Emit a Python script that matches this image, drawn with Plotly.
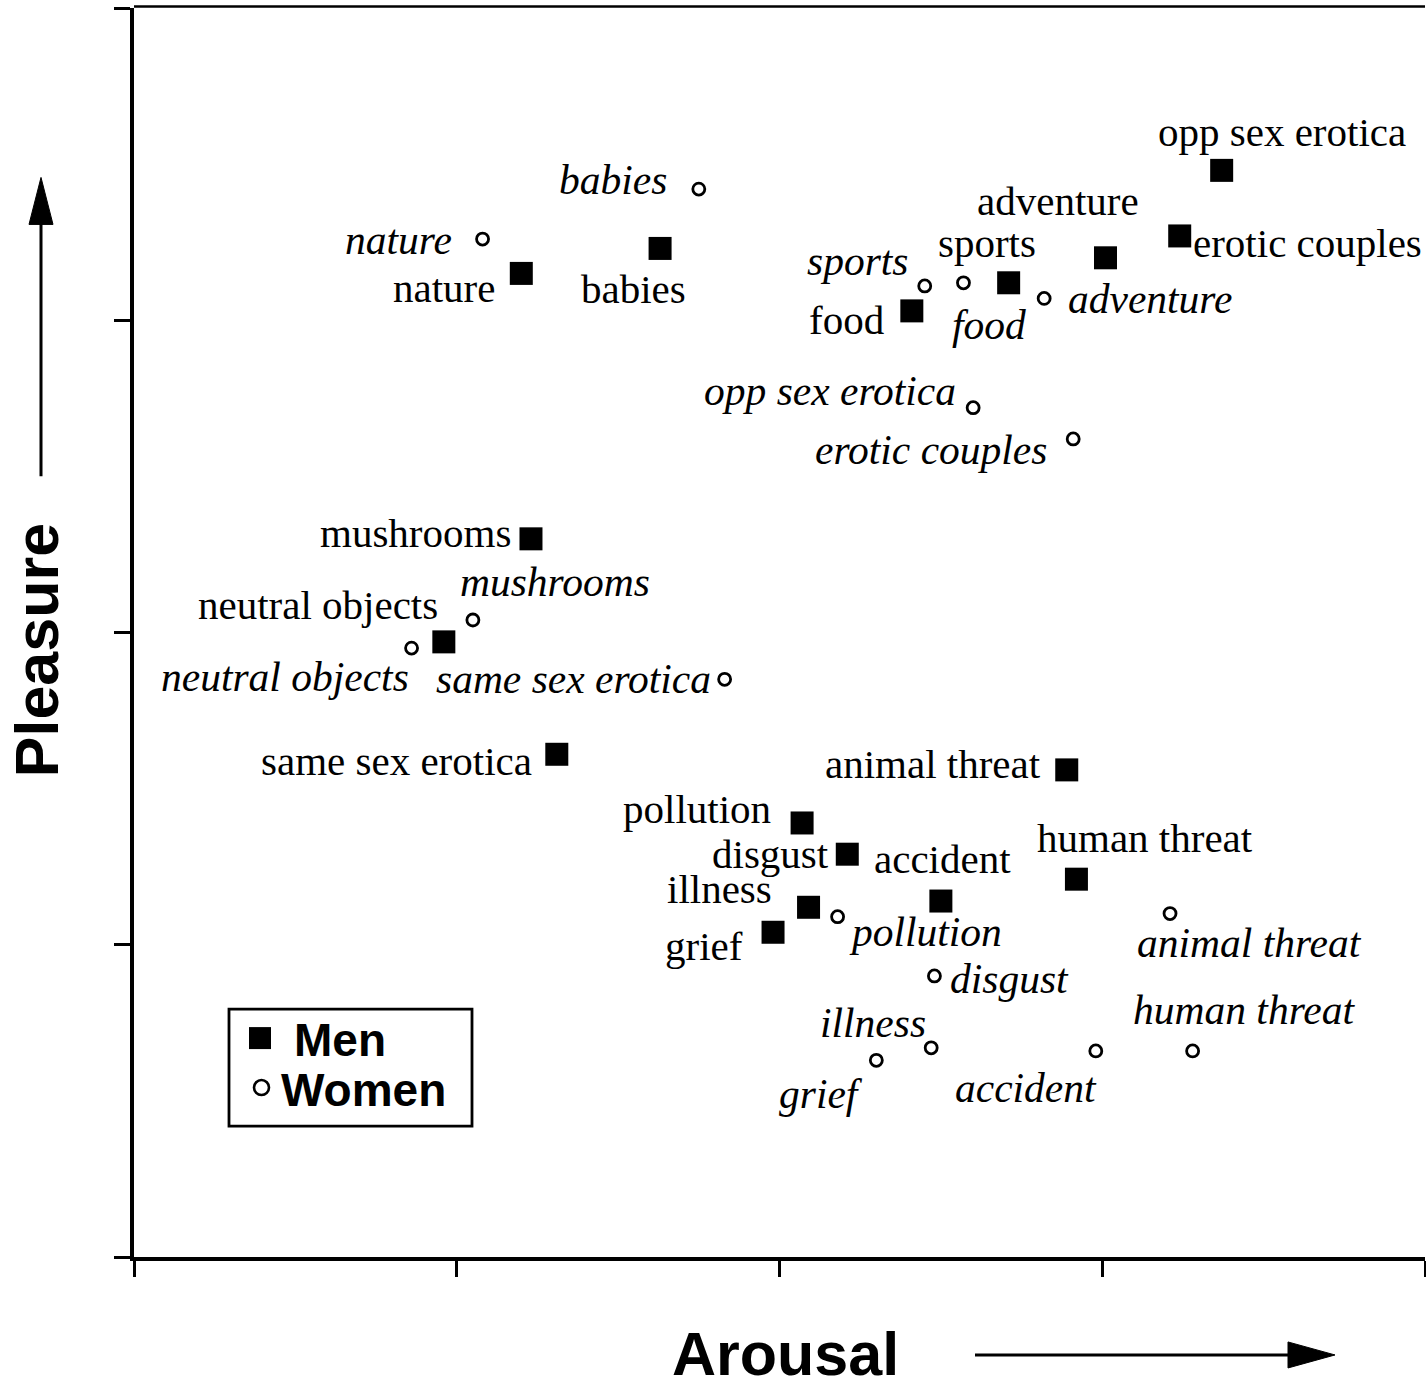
import plotly.graph_objects as go

# ---------------- data ----------------
categories = ["opp sex erotica", "erotic couples", "adventure", "sports", "food",
              "babies", "nature", "mushrooms", "neutral objects", "same sex erotica",
              "animal threat", "pollution", "disgust", "human threat", "accident",
              "illness", "grief"]

men_arousal = [3.37, 3.24, 3.01, 2.71, 2.41, 1.63, 1.20, 1.23, 0.96, 1.31,
               2.89, 2.07, 2.21, 2.92, 2.50, 2.09, 1.98]
men_pleasure = [3.48, 3.27, 3.20, 3.12, 3.03, 3.23, 3.15, 2.30, 1.97, 1.61,
                1.56, 1.39, 1.29, 1.21, 1.14, 1.12, 1.04]

women_arousal = [2.60, 2.91, 2.82, 2.45, 2.57, 1.75, 1.08, 1.05, 0.86, 1.83,
                 3.21, 2.18, 2.48, 3.28, 2.98, 2.47, 2.30]
women_pleasure = [2.72, 2.62, 3.07, 3.11, 3.12, 3.42, 3.26, 2.04, 1.95, 1.85,
                  1.10, 1.09, 0.90, 0.66, 0.66, 0.67, 0.63]

series_names = ["Men", "Women"]
axis_ticks = [0, 1, 2, 3, 4]

# ---------------- label placement (style only: anchor, pixel shifts) ----------------
men_label_pos = {
    "opp sex erotica": ("center", 60, 38),
    "erotic couples": ("left", 11, -7),
    "adventure": ("center", -47, 57),
    "sports": ("center", -22, 40),
    "food": ("right", -26, -9),
    "babies": ("center", -27, -41),
    "nature": ("right", -24, -15),
    "mushrooms": ("right", -18, 6),
    "neutral objects": ("right", -4, 37),
    "same sex erotica": ("right", -23, -7),
    "animal threat": ("right", -24, 6),
    "pollution": ("right", -29, 14),
    "disgust": ("right", -16, 0),
    "human threat": ("center", 69, 41),
    "accident": ("center", 2, 42),
    "illness": ("right", -35, 18),
    "grief": ("right", -28, -14),
}
women_label_pos = {
    "opp sex erotica": ("right", -15, 17),
    "erotic couples": ("right", -24, -11),
    "adventure": ("left", 22, -1),
    "sports": ("right", -15, 25),
    "food": ("center", 26, -42),
    "babies": ("right", -30, 9),
    "nature": ("right", -29, -1),
    "mushrooms": ("left", -15, 38),
    "neutral objects": ("right", -1, -29),
    "same sex erotica": ("right", -12, 0),
    "animal threat": ("center", 79, -29),
    "pollution": ("left", 9, -15),
    "disgust": ("left", 14, -3),
    "human threat": ("center", 51, 41),
    "accident": ("right", 3, -37),
    "illness": ("right", -3, 25),
    "grief": ("right", -11, -34),
}

W, H = 1426, 1382
L, T = 134, 7.5
PW, PH = 1291, 1249.5


def px(x):
    return (x - L) / PW


def py(y):
    return (T + PH - y) / PH


SERIF = "Liberation Serif, Times New Roman, serif"
SANS = "Liberation Sans, Arial, sans-serif"

fig = go.Figure()
fig.add_trace(go.Scatter(
    x=men_arousal, y=men_pleasure, mode="markers", name=series_names[0],
    text=categories, hovertemplate="%{text}<extra>Men</extra>",
    marker=dict(symbol="square", size=23, color="black", line=dict(width=0)),
))
fig.add_trace(go.Scatter(
    x=women_arousal, y=women_pleasure, mode="markers", name=series_names[1],
    text=categories, hovertemplate="%{text}<extra>Women</extra>",
    marker=dict(symbol="circle-open", size=12, color="black", line=dict(width=2.8, color="black")),
))

annotations = []
for cat, xa, ya in zip(categories, men_arousal, men_pleasure):
    anc, dx, dy = men_label_pos[cat]
    annotations.append(dict(x=xa, y=ya, xref="x", yref="y", text=cat, showarrow=False,
                            xanchor=anc, yanchor="middle", xshift=dx, yshift=dy,
                            font=dict(family=SERIF, size=41, color="black")))
for cat, xa, ya in zip(categories, women_arousal, women_pleasure):
    anc, dx, dy = women_label_pos[cat]
    annotations.append(dict(x=xa, y=ya, xref="x", yref="y", text=cat, showarrow=False,
                            xanchor=anc, yanchor="middle", xshift=dx, yshift=dy,
                            font=dict(family=SERIF, size=41.5, color="black", style="italic")))

# axis titles
annotations.append(dict(x=px(785), y=py(1354), xref="paper", yref="paper", text="Arousal",
                        showarrow=False, xanchor="center", yanchor="middle",
                        font=dict(family=SANS, size=61, color="black", weight="bold")))
annotations.append(dict(x=px(37), y=py(650), xref="paper", yref="paper", text="Pleasure",
                        showarrow=False, xanchor="center", yanchor="middle", textangle=-90,
                        font=dict(family=SANS, size=61, color="black", weight="bold")))

# legend texts (drawn by hand to match the boxed key of the reference)
annotations.append(dict(x=px(292), y=py(1040), xref="paper", yref="paper", text=series_names[0],
                        showarrow=False, xanchor="left", yanchor="middle",
                        font=dict(family=SANS, size=46, color="black", weight="bold")))
annotations.append(dict(x=px(279), y=py(1090), xref="paper", yref="paper", text=series_names[1],
                        showarrow=False, xanchor="left", yanchor="middle",
                        font=dict(family=SANS, size=46, color="black", weight="bold")))

shapes = [
    # top frame line
    dict(type="line", xref="paper", yref="paper", x0=0, x1=1, y0=py(6), y1=py(6),
         line=dict(color="black", width=2.5)),
    # vertical arrow (Pleasure)
    dict(type="line", xref="paper", yref="paper", x0=px(41), x1=px(41), y0=py(476), y1=py(220),
         line=dict(color="black", width=3)),
    dict(type="path", xref="paper", yref="paper",
         path=f"M{px(29)},{py(224)} L{px(41)},{py(177)} L{px(53)},{py(224)} Z",
         fillcolor="black", line=dict(color="black", width=1)),
    # horizontal arrow (Arousal)
    dict(type="line", xref="paper", yref="paper", x0=px(975), x1=px(1292), y0=py(1355), y1=py(1355),
         line=dict(color="black", width=3)),
    dict(type="path", xref="paper", yref="paper",
         path=f"M{px(1288)},{py(1342)} L{px(1335)},{py(1355)} L{px(1288)},{py(1368)} Z",
         fillcolor="black", line=dict(color="black", width=1)),
    # legend box
    dict(type="rect", xref="paper", yref="paper", x0=px(229), x1=px(472), y0=py(1009), y1=py(1126),
         line=dict(color="black", width=2.8), fillcolor="white", layer="above"),
    # legend glyphs
    dict(type="rect", xref="paper", yref="paper", x0=px(249), x1=px(271), y0=py(1027), y1=py(1049),
         line=dict(color="black", width=0), fillcolor="black", layer="above"),
    dict(type="circle", xref="paper", yref="paper", x0=px(254), x1=px(269), y0=py(1080), y1=py(1095),
         line=dict(color="black", width=2.6), fillcolor="white", layer="above"),
]

axis_common = dict(range=[0, 4], tickvals=axis_ticks, showticklabels=False, ticks="outside",
                   ticklen=16, tickwidth=3, tickcolor="black", showline=True, linewidth=4,
                   linecolor="black", showgrid=False, zeroline=False, fixedrange=True)

fig.update_layout(
    width=W, height=H,
    margin=dict(l=L, r=W - L - PW, t=T, b=H - T - PH, pad=0),
    paper_bgcolor="white", plot_bgcolor="white",
    xaxis=axis_common, yaxis=axis_common,
    annotations=annotations, shapes=shapes,
    showlegend=False,
)

fig.write_html("out.html")
